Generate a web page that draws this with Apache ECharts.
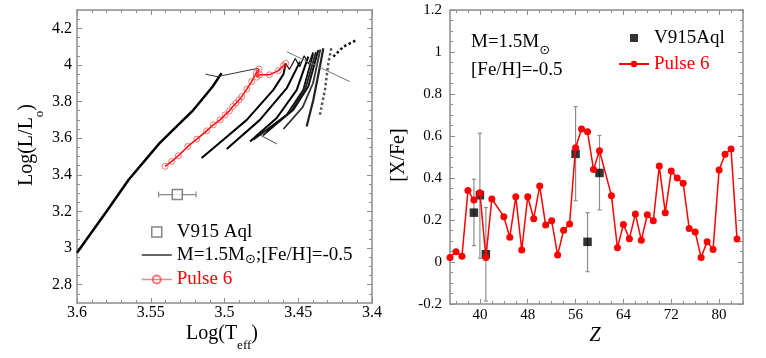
<!DOCTYPE html>
<html>
<head>
<meta charset="utf-8">
<script src="https://cdn.jsdelivr.net/npm/echarts@6/dist/echarts.min.js"></script>
<style>
  html, body { margin: 0; padding: 0; background: #fff; }
  #chart { width: 766px; height: 358px; }
</style>
</head>
<body>
<div id="chart"></div>
<script>
const FONT = 'Liberation Serif';
const GRAY = '#8c8c8c';

// ---- left panel: HR diagram (Log Teff vs Log L/Lo)
const lumTicks = [2.8, 3, 3.2, 3.4, 3.6, 3.8, 4, 4.2];
const lumMinor = [2.75, 2.85, 2.9, 2.95, 3.05, 3.1, 3.15, 3.25, 3.3, 3.35, 3.45, 3.5, 3.55,
  3.65, 3.7, 3.75, 3.85, 3.9, 3.95, 4.05, 4.1, 4.15, 4.25];

const rgbTrack = [[3.600, 2.974], [3.580, 3.200], [3.565, 3.373], [3.544, 3.573], [3.521, 3.755], [3.508, 3.882], [3.502, 3.955]];
const firstLoop = [[3.513, 3.950], [3.505, 3.936], [3.477, 3.982]];
const track1 = [[3.5155, 3.492], [3.500, 3.597], [3.4849, 3.700], [3.4669, 3.864], [3.460, 3.950], [3.4585, 4.009]];
const track2 = [[3.4985, 3.541], [3.476, 3.700], [3.4578, 3.873], [3.4488, 4.018]];
const track3 = [[3.4827, 3.582], [3.4646, 3.710], [3.451, 3.864], [3.4432, 4.045]];
const track4 = [[3.4805, 3.591], [3.4578, 3.728], [3.4466, 3.864], [3.4398, 4.064]];
const track5 = [[3.474, 3.615], [3.455, 3.745], [3.445, 3.875], [3.438, 4.070]];
const track6 = [[3.4714, 3.636], [3.4533, 3.755], [3.4432, 3.882], [3.4364, 4.082]];
const track7 = [[3.460, 3.650], [3.447, 3.770], [3.440, 3.900], [3.435, 4.085]];
const track8 = [[3.4443, 3.664], [3.4398, 3.809], [3.4353, 3.991], [3.433, 4.091]];
const track9 = [[3.4353, 3.728], [3.4319, 3.864], [3.4296, 4.009], [3.4274, 4.100]];
const track10 = [[3.4262, 4.045], [3.4194, 4.100], [3.4104, 4.136]];
const topZigzag = [[3.4585, 4.009], [3.456, 3.975], [3.452, 4.035], [3.449, 3.990], [3.446, 4.050], [3.443, 4.005], [3.440, 4.070]];
const hooks = [[3.476, 3.618], [3.4646, 3.569]];
const slopeLine = [[3.4578, 4.072], [3.415, 3.909]];
const pulse6Track = [[3.5403, 3.446], [3.5358, 3.473], [3.5313, 3.504], [3.5249, 3.555], [3.5188, 3.595],
  [3.5121, 3.640], [3.5076, 3.673], [3.503, 3.700], [3.4997, 3.727], [3.4967, 3.749], [3.4944, 3.773],
  [3.4922, 3.791], [3.4902, 3.809], [3.4883, 3.827], [3.4849, 3.868], [3.4816, 3.909], [3.4786, 3.955],
  [3.4766, 3.978], [3.4782, 3.933], [3.476, 3.946], [3.4696, 3.946], [3.4635, 3.969], [3.4601, 3.996], [3.4585, 4.009]];
const v915HR = [[3.532, 3.292, 0.0127]]; // logTeff, logL, logTeff error

// ---- right panel: [X/Fe] vs Z
const zTicks = [40, 48, 56, 64, 72, 80];
const zMinor = [36, 38, 42, 44, 46, 50, 52, 54, 58, 60, 62, 66, 68, 70, 74, 76, 78, 82, 84];
const pulseZ = [35, 36, 37, 38, 39, 40, 41, 42, 44, 45, 46, 47, 48, 49, 50, 51, 52, 53, 54, 55, 56, 57, 58, 59, 60,
  62, 63, 64, 65, 66, 67, 68, 69, 70, 71, 72, 73, 74, 75, 76, 77, 78, 79, 80, 81, 82, 83];
const pulseXFe = [0.022, 0.049, 0.027, 0.34, 0.295, 0.33, 0.022, 0.30, 0.216, 0.118, 0.311, 0.057, 0.311, 0.206,
  0.362, 0.176, 0.197, 0.033, 0.151, 0.181, 0.544, 0.633, 0.62, 0.441, 0.53, 0.316, 0.068, 0.179, 0.111, 0.229,
  0.103, 0.225, 0.197, 0.457, 0.235, 0.433, 0.40, 0.375, 0.16, 0.143, 0.022, 0.097, 0.06, 0.438, 0.513, 0.538, 0.11];
const obsZ = [39, 40, 41, 56, 58, 60];
const obsXFe = [0.235, 0.318, 0.037, 0.515, 0.096, 0.424];
const obsLo = [0.078, 0.018, -0.186, 0.292, -0.046, 0.248];
const obsHi = [0.394, 0.613, 0.259, 0.74, 0.235, 0.603];

const legendText = {
  v915L: 'V915 Aql',
  track: '{a|M=1.5M}{s|⊙}{a|;[Fe/H]=-0.5}',
  pulseL: 'Pulse 6',
  v915R: 'V915Aql',
  pulseR: 'Pulse 6'
};

const chart = echarts.init(document.getElementById('chart'));

const SQUARE = 'path://M0,0H10V10H0Z';
const tick = (len, values) => ({ show: true, inside: true, length: len, customValues: values, lineStyle: { color: GRAY, width: 1 } });
const minor = (n) => ({ show: true, splitNumber: n, length: 3, lineStyle: { color: GRAY, width: 1 } });
const label = (size, margin, values) => ({ show: true, fontFamily: FONT, fontSize: size, color: '#000', margin: margin, customValues: values });
const line = (show) => ({ show: show, onZero: false, lineStyle: { color: GRAY, width: 1.5 } });
const off = { show: false };

function hErrorBar(params, api) {
  const t = api.value(0), l = api.value(1), e = api.value(2);
  const a = api.coord([t - e, l]), b = api.coord([t + e, l]);
  const style = { stroke: GRAY, lineWidth: 1.2 };
  return { type: 'group', children: [
    { type: 'line', shape: { x1: a[0], y1: a[1], x2: b[0], y2: b[1] }, style: style },
    { type: 'line', shape: { x1: a[0], y1: a[1] - 3, x2: a[0], y2: a[1] + 3 }, style: style },
    { type: 'line', shape: { x1: b[0], y1: b[1] - 3, x2: b[0], y2: b[1] + 3 }, style: style }
  ] };
}

function vErrorBar(params, api) {
  const z = api.value(0);
  const a = api.coord([z, api.value(1)]), b = api.coord([z, api.value(2)]);
  const style = { stroke: GRAY, lineWidth: 1.2 };
  return { type: 'group', children: [
    { type: 'line', shape: { x1: a[0], y1: a[1], x2: b[0], y2: b[1] }, style: style },
    { type: 'line', shape: { x1: a[0] - 2, y1: a[1], x2: a[0] + 2, y2: a[1] }, style: style },
    { type: 'line', shape: { x1: b[0] - 2, y1: b[1], x2: b[0] + 2, y2: b[1] }, style: style }
  ] };
}

function trackSeries(data, color, width, type) {
  return {
    type: 'line', name: 'track', xAxisIndex: 0, yAxisIndex: 0, data: data,
    symbol: 'none', silent: true, z: 2,
    itemStyle: { color: '#000' },
    lineStyle: { color: color, width: width, type: type || 'solid' }
  };
}

const sub = (size, drop) => ({ fontFamily: 'DejaVu Sans', fontSize: size, fill: '#000', color: '#000', padding: [drop, 0, 0, 0] });
const serif = (size) => ({ fontFamily: FONT, fontSize: size, fill: '#000', color: '#000' });

const option = {
  animation: false,
  backgroundColor: '#fff',
  grid: [
    { left: 77, top: 10, width: 295, height: 293, outerBoundsMode: 'none', containLabel: false },
    { left: 450, top: 10, width: 293, height: 294, outerBoundsMode: 'none', containLabel: false }
  ],
  xAxis: [
    { type: 'value', gridIndex: 0, position: 'bottom', inverse: true, min: 3.4, max: 3.6, interval: 0.05,
      axisLine: line(true), axisTick: tick(5), minorTick: minor(5), axisLabel: label(16, 2), splitLine: off },
    { type: 'value', gridIndex: 0, position: 'top', inverse: true, min: 3.4, max: 3.6, interval: 0.05,
      axisLine: line(true), axisTick: tick(5), minorTick: minor(5), axisLabel: off, splitLine: off },
    { type: 'value', gridIndex: 1, position: 'bottom', min: 35, max: 84,
      axisLine: line(true), axisTick: tick(5, zTicks), axisLabel: label(15, 4, zTicks), splitLine: off },
    { type: 'value', gridIndex: 1, position: 'bottom', min: 35, max: 84,
      axisLine: line(false), axisTick: tick(3, zMinor), axisLabel: off, splitLine: off },
    { type: 'value', gridIndex: 1, position: 'top', min: 35, max: 84,
      axisLine: line(true), axisTick: tick(5, zTicks), axisLabel: off, splitLine: off },
    { type: 'value', gridIndex: 1, position: 'top', min: 35, max: 84,
      axisLine: line(false), axisTick: tick(3, zMinor), axisLabel: off, splitLine: off }
  ],
  yAxis: [
    { type: 'value', gridIndex: 0, position: 'left', min: 2.7, max: 4.3,
      axisLine: line(true), axisTick: tick(5, lumTicks), axisLabel: label(16, 5, lumTicks), splitLine: off },
    { type: 'value', gridIndex: 0, position: 'left', min: 2.7, max: 4.3,
      axisLine: line(false), axisTick: tick(3, lumMinor), axisLabel: off, splitLine: off },
    { type: 'value', gridIndex: 0, position: 'right', min: 2.7, max: 4.3,
      axisLine: line(true), axisTick: tick(5, lumTicks), axisLabel: off, splitLine: off },
    { type: 'value', gridIndex: 0, position: 'right', min: 2.7, max: 4.3,
      axisLine: line(false), axisTick: tick(3, lumMinor), axisLabel: off, splitLine: off },
    { type: 'value', gridIndex: 1, position: 'left', min: -0.2, max: 1.2, interval: 0.2,
      axisLine: line(true), axisTick: tick(5), minorTick: minor(4), axisLabel: label(15, 8), splitLine: off },
    { type: 'value', gridIndex: 1, position: 'right', min: -0.2, max: 1.2, interval: 0.2,
      axisLine: line(true), axisTick: tick(5), minorTick: minor(4), axisLabel: off, splitLine: off }
  ],
  legend: [
    { orient: 'vertical', left: 136, top: 217, itemWidth: 30, itemHeight: 10, itemGap: 3,
      selectedMode: false, formatter: (n) => legendText[n],
      textStyle: { fontFamily: FONT, fontSize: 19, color: '#000', lineHeight: 20,
        rich: { a: Object.assign(serif(19), { lineHeight: 20 }), s: sub(13, 10) } },
      data: [
        { name: 'v915L', icon: SQUARE, itemStyle: { color: '#fff', borderColor: '#666', borderWidth: 1.5 } },
        { name: 'track', icon: 'path://M0,0H30V1.2H0Z', itemStyle: { color: '#000' } },
        { name: 'pulseL', textStyle: { color: '#ff0000' }, lineStyle: { color: 'rgba(255,90,90,0.75)', width: 1.5 } }
      ] },
    { orient: 'vertical', left: 613, top: 23, itemWidth: 30, itemHeight: 8, itemGap: 6,
      selectedMode: false, formatter: (n) => legendText[n],
      textStyle: { fontFamily: FONT, fontSize: 19, color: '#000', lineHeight: 20 },
      data: [
        { name: 'v915R', icon: SQUARE, itemStyle: { color: '#000' } },
        { name: 'pulseR', textStyle: { color: '#ff0000' } }
      ] }
  ],
  graphic: [
    { type: 'text', x: 222, y: 334, style: { text: '{a|Log(T}{b|eff}{a|)}', align: 'center', verticalAlign: 'middle',
      fontFamily: FONT, fontSize: 20, fill: '#000',
      rich: { a: serif(20), b: Object.assign(serif(13), { padding: [24, 0, 0, 0] }) } } },
    { type: 'text', x: 27, y: 145, rotation: Math.PI / 2, style: { text: '{a|Log(L/L}{b|o}{a|)}', align: 'center', verticalAlign: 'middle',
      fontFamily: FONT, fontSize: 20, fill: '#000',
      rich: { a: serif(20), b: Object.assign(serif(13), { padding: [26, 0, 0, 0] }) } } },
    { type: 'text', x: 399, y: 155, rotation: Math.PI / 2, style: { text: '[X/Fe]', align: 'center', verticalAlign: 'middle',
      fontFamily: FONT, fontSize: 20, fill: '#000' } },
    { type: 'text', x: 595, y: 336, style: { text: 'Z', align: 'center', verticalAlign: 'middle',
      fontFamily: FONT, fontSize: 20, fontStyle: 'italic', fill: '#000' } },
    { type: 'text', x: 471, y: 42, style: { text: '{a|M=1.5M}{s|⊙}', align: 'left', verticalAlign: 'middle',
      fontFamily: FONT, fontSize: 19, fill: '#000',
      rich: { a: serif(19), s: sub(13, 18) } } },
    { type: 'text', x: 471, y: 70, style: { text: '[Fe/H]=-0.5', align: 'left', verticalAlign: 'middle',
      fontFamily: FONT, fontSize: 19, fill: '#000' } }
  ],
  series: [
    trackSeries(rgbTrack, '#000', 2.5),
    trackSeries(firstLoop, '#333', 1),
    trackSeries(track1, '#000', 2),
    trackSeries(track2, '#000', 2),
    trackSeries(track3, '#000', 2),
    trackSeries(track4, '#111', 1.8),
    trackSeries(track5, '#222', 1.8),
    trackSeries(track6, '#111', 2),
    trackSeries(track7, '#333', 1.8),
    trackSeries(track8, '#222', 2.2),
    trackSeries(track9, '#555', 2.5, 'dotted'),
    trackSeries(track10, '#111', 2.5, 'dotted'),
    trackSeries(topZigzag, '#111', 1.2),
    trackSeries(hooks, '#444', 1),
    trackSeries(slopeLine, '#777', 1),
    { type: 'line', name: 'pulseL', xAxisIndex: 0, yAxisIndex: 0, data: pulse6Track, z: 4,
      symbol: 'circle', symbolSize: 6,
      itemStyle: { color: 'rgba(255,255,255,0)', borderColor: 'rgba(255,70,70,0.75)', borderWidth: 1 },
      lineStyle: { color: '#ff0000', width: 1.5 } },
    { type: 'custom', name: 'v915Lerr', xAxisIndex: 0, yAxisIndex: 0, data: v915HR, renderItem: hErrorBar,
      encode: { x: 0, y: 1 }, z: 3, silent: true },
    { type: 'scatter', name: 'v915L', xAxisIndex: 0, yAxisIndex: 0, data: v915HR.map(d => [d[0], d[1]]), z: 4,
      symbol: 'rect', symbolSize: 10, itemStyle: { color: '#fff', borderColor: '#666', borderWidth: 1.5 } },

    { type: 'custom', name: 'v915Rerr', xAxisIndex: 2, yAxisIndex: 4,
      data: obsZ.map((z, i) => [z, obsLo[i], obsHi[i]]), renderItem: vErrorBar,
      encode: { x: 0, y: [1, 2] }, z: 1, silent: true },
    { type: 'scatter', name: 'v915R', xAxisIndex: 2, yAxisIndex: 4, z: 2,
      data: obsZ.map((z, i) => [z, obsXFe[i]]),
      symbol: 'rect', symbolSize: 8.5, itemStyle: { color: '#000' } },
    { type: 'line', name: 'pulseR', xAxisIndex: 2, yAxisIndex: 4, z: 3,
      data: pulseZ.map((z, i) => [z, pulseXFe[i]]),
      symbol: 'circle', symbolSize: 7, showAllSymbol: true,
      itemStyle: { color: '#ff0000' }, lineStyle: { color: '#ff0000', width: 1.5 } }
  ]
};

chart.setOption(option);
</script>
</body>
</html>
